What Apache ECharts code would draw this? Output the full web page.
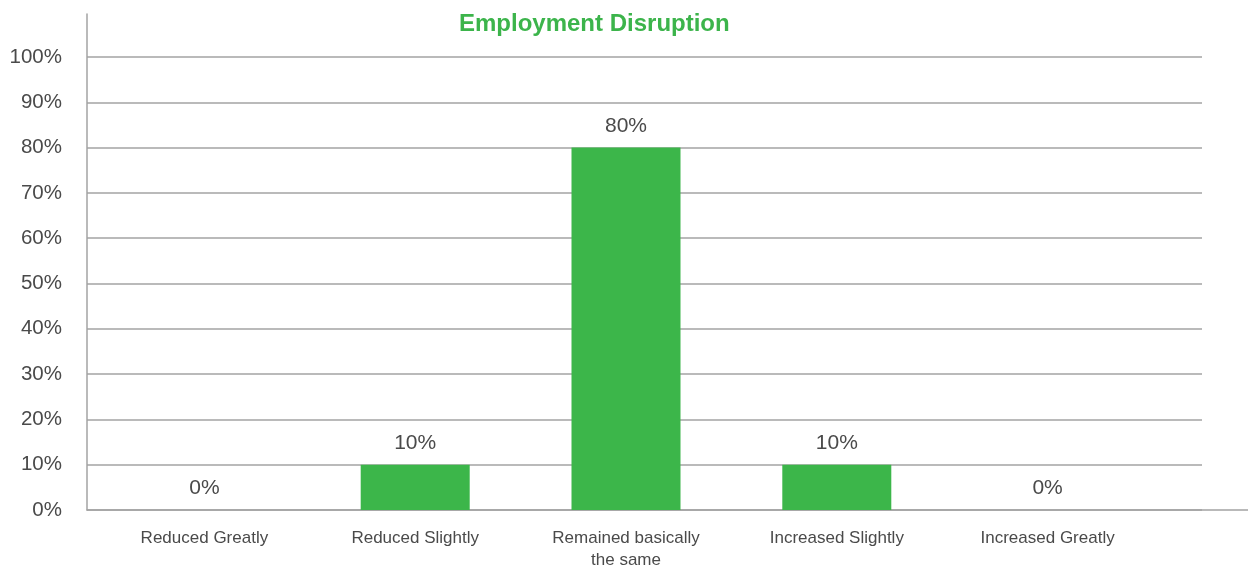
<!DOCTYPE html>
<html>
<head>
<meta charset="utf-8">
<script src="https://cdn.jsdelivr.net/npm/echarts@6/dist/echarts.min.js"></script>
<style>
  html, body { margin: 0; padding: 0; background: #fff; }
  #main { width: 1248px; height: 567px; }
</style>
</head>
<body>
<div id="main"></div>
<script>
var categories = ['Reduced Greatly', 'Reduced Slightly', 'Remained basically\nthe same', 'Increased Slightly', 'Increased Greatly'];
var values = [0, 10, 80, 10, 0];
var yMax = 100;
var yStep = 10;

var chartDom = document.getElementById('main');
var myChart = echarts.init(chartDom);
var option;

var lineColor = '#a3a3a3';
var textColor = '#4a4a4a';
var font = 'Liberation Sans';

option = {
  animation: false,
  title: {
    text: 'Employment Disruption',
    left: 454,
    top: 7,
    textStyle: { color: '#3cb44b', fontSize: 24, fontWeight: 'bold', fontFamily: font }
  },
  grid: [
    // gridlines + y labels
    { left: 87, right: 46, top: 57, bottom: 57, outerBoundsMode: 'none' },
    // axis lines
    { left: 87, right: 0, top: 14, bottom: 57, outerBoundsMode: 'none' },
    // bars + category labels
    { left: 99, right: 95, top: 57, bottom: 57, outerBoundsMode: 'none' }
  ],
  xAxis: [
    { gridIndex: 0, type: 'value', show: false },
    {
      gridIndex: 1, type: 'value', min: 0, max: 1,
      axisLine: { show: true, lineStyle: { color: lineColor, width: 1.5 } },
      axisTick: { show: false }, axisLabel: { show: false }, splitLine: { show: false }
    },
    {
      gridIndex: 2, type: 'category', data: categories,
      axisLine: { show: false }, axisTick: { show: false },
      axisLabel: { color: textColor, fontSize: 17, fontFamily: font, margin: 17, lineHeight: 22, interval: 0 }
    }
  ],
  yAxis: [
    {
      gridIndex: 0, type: 'value', min: 0, max: yMax, interval: yStep,
      axisLine: { show: false }, axisTick: { show: false },
      axisLabel: { color: textColor, fontSize: 20.5, fontFamily: font, margin: 25, formatter: '{value}%' },
      splitLine: { lineStyle: { color: lineColor, width: 1.5 } }
    },
    {
      gridIndex: 1, type: 'value', min: 0, max: 1,
      axisLine: { show: true, lineStyle: { color: lineColor, width: 1.5 } },
      axisTick: { show: false }, axisLabel: { show: false }, splitLine: { show: false }
    },
    { gridIndex: 2, type: 'value', min: 0, max: yMax, show: false }
  ],
  series: [
    {
      type: 'bar',
      xAxisIndex: 2,
      yAxisIndex: 2,
      data: values,
      barWidth: 109,
      itemStyle: { color: '#3cb64a' },
      label: {
        show: true,
        position: 'top',
        distance: 11,
        formatter: '{c}%',
        color: textColor,
        fontSize: 21,
        fontFamily: font
      }
    }
  ]
};

option && myChart.setOption(option);
</script>
</body>
</html>
